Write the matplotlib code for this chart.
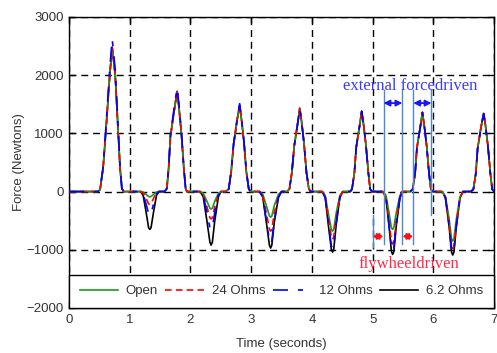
import matplotlib
matplotlib.use("Agg")
import matplotlib.pyplot as plt

# ---------------------------------------------------------------------------
# Data (force vs time for four load resistances)
# ---------------------------------------------------------------------------

time_s = [
    0.00,
    0.47, 0.51, 0.56, 0.60, 0.67, 0.71, 0.76, 0.81, 0.84, 0.87, 0.90,
    1.18, 1.22, 1.27, 1.31, 1.33, 1.35, 1.39, 1.44, 1.48,
    1.57, 1.61, 1.64, 1.67, 1.74, 1.78, 1.81, 1.85, 1.89, 1.92, 1.94,
    2.16, 2.21, 2.27, 2.32, 2.34, 2.36, 2.40, 2.46, 2.50,
    2.58, 2.63, 2.67, 2.71, 2.77, 2.81, 2.84, 2.88, 2.92, 2.96, 2.99,
    3.14, 3.19, 3.25, 3.30, 3.32, 3.34, 3.38, 3.45, 3.50,
    3.59, 3.63, 3.67, 3.71, 3.77, 3.80, 3.83, 3.87, 3.91, 3.95, 3.98,
    4.17, 4.22, 4.27, 4.32, 4.34, 4.36, 4.40, 4.46, 4.51,
    4.63, 4.66, 4.70, 4.73, 4.79, 4.82, 4.85, 4.89, 4.93, 4.96, 4.99,
    5.17, 5.22, 5.27, 5.31, 5.33, 5.35, 5.39, 5.45, 5.49,
    5.62, 5.66, 5.70, 5.73, 5.79, 5.82, 5.85, 5.89, 5.93, 5.96, 5.99,
    6.15, 6.20, 6.26, 6.30, 6.32, 6.34, 6.38, 6.44, 6.49,
    6.62, 6.66, 6.70, 6.73, 6.79, 6.83, 6.86, 6.90, 6.94, 6.97, 7.00,
]

force_open = [
    0,
    0, 30, 400, 950, 2000, 2480, 2000, 1000, 400, 50, 0,
    0, -10, -50, -85, -90, -85, -50, -10, 0,
    0, 50, 400, 950, 1450, 1720, 1450, 1000, 400, 50, 0,
    0, -30, -165, -285, -300, -285, -165, -30, 0,
    0, 45, 340, 810, 1240, 1480, 1240, 860, 340, 45, 0,
    0, -45, -240, -420, -440, -420, -240, -45, 0,
    0, 45, 330, 790, 1200, 1430, 1200, 830, 330, 45, 0,
    0, -70, -370, -650, -680, -650, -370, -70, 0,
    0, 40, 320, 760, 1160, 1380, 1160, 800, 320, 40, 0,
    0, -65, -360, -620, -650, -620, -360, -65, 0,
    0, 40, 310, 750, 1140, 1360, 1140, 790, 310, 40, 0,
    0, -85, -470, -810, -850, -810, -470, -85, 0,
    0, 40, 310, 740, 1130, 1340, 1130, 780, 310, 40, 0,
]

force_24 = [
    0,
    0, 30, 400, 950, 2000, 2480, 2000, 1000, 400, 50, 0,
    0, -20, -120, -210, -220, -210, -120, -20, 0,
    0, 50, 400, 950, 1450, 1720, 1450, 1000, 400, 50, 0,
    0, -50, -260, -450, -470, -450, -260, -50, 0,
    0, 45, 340, 810, 1240, 1480, 1240, 860, 340, 45, 0,
    0, -70, -370, -650, -680, -650, -370, -70, 0,
    0, 45, 330, 790, 1200, 1430, 1200, 830, 330, 45, 0,
    0, -80, -450, -780, -820, -780, -450, -80, 0,
    0, 40, 320, 760, 1160, 1380, 1160, 800, 320, 40, 0,
    0, -90, -500, -860, -900, -860, -500, -90, 0,
    0, 40, 310, 750, 1140, 1360, 1140, 790, 310, 40, 0,
    0, -100, -540, -930, -980, -930, -540, -100, 0,
    0, 40, 310, 740, 1130, 1340, 1130, 780, 310, 40, 0,
]

force_12 = [
    0,
    0, 30, 420, 1000, 2100, 2620, 2100, 1050, 420, 50, 0,
    0, -40, -220, -380, -400, -380, -220, -40, 0,
    0, 50, 410, 980, 1500, 1780, 1500, 1030, 410, 50, 0,
    0, -65, -360, -620, -650, -620, -360, -65, 0,
    0, 45, 345, 820, 1260, 1510, 1260, 870, 345, 45, 0,
    0, -90, -490, -850, -890, -850, -490, -90, 0,
    0, 45, 330, 790, 1200, 1430, 1200, 830, 330, 45, 0,
    0, -100, -540, -930, -980, -930, -540, -100, 0,
    0, 40, 320, 760, 1160, 1380, 1160, 800, 320, 40, 0,
    0, -100, -560, -970, -1020, -970, -560, -100, 0,
    0, 40, 310, 750, 1140, 1360, 1140, 790, 310, 40, 0,
    0, -105, -580, -1000, -1050, -1000, -580, -105, 0,
    0, 40, 310, 740, 1130, 1340, 1130, 780, 310, 40, 0,
]

force_62 = [
    0,
    0, 30, 400, 950, 2000, 2480, 2000, 1000, 400, 50, 0,
    0, -65, -360, -620, -650, -620, -360, -65, 0,
    0, 50, 400, 950, 1450, 1720, 1450, 1000, 400, 50, 0,
    0, -90, -500, -870, -920, -870, -500, -90, 0,
    0, 45, 340, 810, 1240, 1480, 1240, 860, 340, 45, 0,
    0, -95, -530, -920, -970, -920, -530, -95, 0,
    0, 45, 330, 790, 1200, 1430, 1200, 830, 330, 45, 0,
    0, -105, -570, -990, -1040, -990, -570, -105, 0,
    0, 40, 320, 760, 1160, 1380, 1160, 800, 320, 40, 0,
    0, -110, -590, -1030, -1080, -1030, -590, -110, 0,
    0, 40, 310, 750, 1140, 1360, 1140, 790, 310, 40, 0,
    0, -110, -600, -1040, -1090, -1040, -600, -110, 0,
    0, 40, 310, 740, 1130, 1340, 1130, 780, 310, 40, 0,
]

series_labels = ["Open", "24 Ohms", "12 Ohms", "6.2 Ohms"]

# annotation markers (time, force)
ext_lines_t = [5.18, 5.49, 5.67, 5.97]
ext_lines_top = [1750, 1750, 1750, 1750]
ext_lines_bot = [-900, -900, -900, -400]
fly_line_t = 5.00
fly_line_range = (-400, -950)
ext_arrow_y = 1520
fly_arrow_y = -770

# ---------------------------------------------------------------------------
# Figure
# ---------------------------------------------------------------------------

plt.rcParams["font.family"] = ["Liberation Sans", "DejaVu Sans"]

fig = plt.figure(figsize=(4.97, 3.53), dpi=100)
ax = fig.add_axes([0.139, 0.1275, 0.855, 0.8245])

ax.plot(time_s, force_62, color="black", lw=1.2, label=series_labels[3], zorder=2)
ax.plot(time_s, force_open, color="#1a9a1a", lw=1.2, label=series_labels[0], zorder=3)
ax.plot(time_s, force_24, color="red", lw=1.2, ls=(0, (4, 2.5)),
        label=series_labels[1], zorder=4)
ax.plot(time_s, force_12, color="blue", lw=1.2, ls=(0, (9, 6, 3, 6)),
        label=series_labels[2], zorder=5)

# annotation lines / arrows
blue_line = "#4f86cc"
for t, top, bot in zip(ext_lines_t, ext_lines_top, ext_lines_bot):
    ax.plot([t, t], [bot, top], color=blue_line, lw=1.0, zorder=6)
ax.plot([fly_line_t, fly_line_t], list(fly_line_range), color=blue_line, lw=1.0, zorder=6)

arrow_blue = dict(arrowstyle="<|-|>", color="#1515ff", lw=1.3, mutation_scale=9,
                  shrinkA=0, shrinkB=0)
arrow_red = dict(arrowstyle="<|-|>", color="#ff1010", lw=1.3, mutation_scale=9,
                 shrinkA=0, shrinkB=0)
ax.annotate("", xy=(ext_lines_t[0], ext_arrow_y), xytext=(ext_lines_t[1], ext_arrow_y),
            arrowprops=arrow_blue, zorder=7)
ax.annotate("", xy=(ext_lines_t[2], ext_arrow_y), xytext=(ext_lines_t[3], ext_arrow_y),
            arrowprops=arrow_blue, zorder=7)
ax.annotate("", xy=(fly_line_t, fly_arrow_y), xytext=(ext_lines_t[0], fly_arrow_y),
            arrowprops=arrow_red, zorder=7)
ax.annotate("", xy=(ext_lines_t[1], fly_arrow_y), xytext=(ext_lines_t[2], fly_arrow_y),
            arrowprops=arrow_red, zorder=7)

ax.text(5.62, 1820, "external forcedriven", color="#3a3aff", fontsize=12,
        family=["Liberation Serif", "DejaVu Serif"], ha="center", va="center", zorder=8)
ax.text(5.60, -1250, "flywheeldriven", color="#ff2a4a", fontsize=12,
        family=["Liberation Serif", "DejaVu Serif"], ha="center", va="center", zorder=8)

# axes styling
ax.set_xlim(0, 7)
ax.set_ylim(-2000, 3000)
ax.set_xticks(range(0, 8))
ax.set_yticks(range(-2000, 3001, 1000))
ax.grid(True, color="black", lw=1.0, ls=(0, (5, 3.5)))
ax.tick_params(direction="in", length=4, width=1, labelsize=9.5,
               labelcolor="#333333", top=True, right=True, pad=4)
for sp in ax.spines.values():
    sp.set_linewidth(1.0)
    sp.set_color("black")

ax.set_xlabel("Time (seconds)", fontsize=9.5, color="#333333", labelpad=9)
ax.set_ylabel("Force (Newtons)", fontsize=9.5, color="#333333", labelpad=1)

handles, labels = ax.get_legend_handles_labels()
order = [labels.index(name) for name in series_labels]
leg = ax.legend([handles[i] for i in order], [labels[i] for i in order],
                loc="lower left", bbox_to_anchor=(0, 0, 1, 0.13), mode="expand",
                ncol=4, fontsize=9.5, frameon=True, fancybox=False,
                handlelength=2.9, handletextpad=0.6, borderpad=0.8,
                columnspacing=0.8, borderaxespad=0)
leg.get_frame().set_edgecolor("black")
leg.get_frame().set_linewidth(1.0)
leg.get_frame().set_alpha(1.0)
leg.set_zorder(10)
for txt in leg.get_texts():
    txt.set_color("#333333")

fig.savefig("out.png", dpi=100)
